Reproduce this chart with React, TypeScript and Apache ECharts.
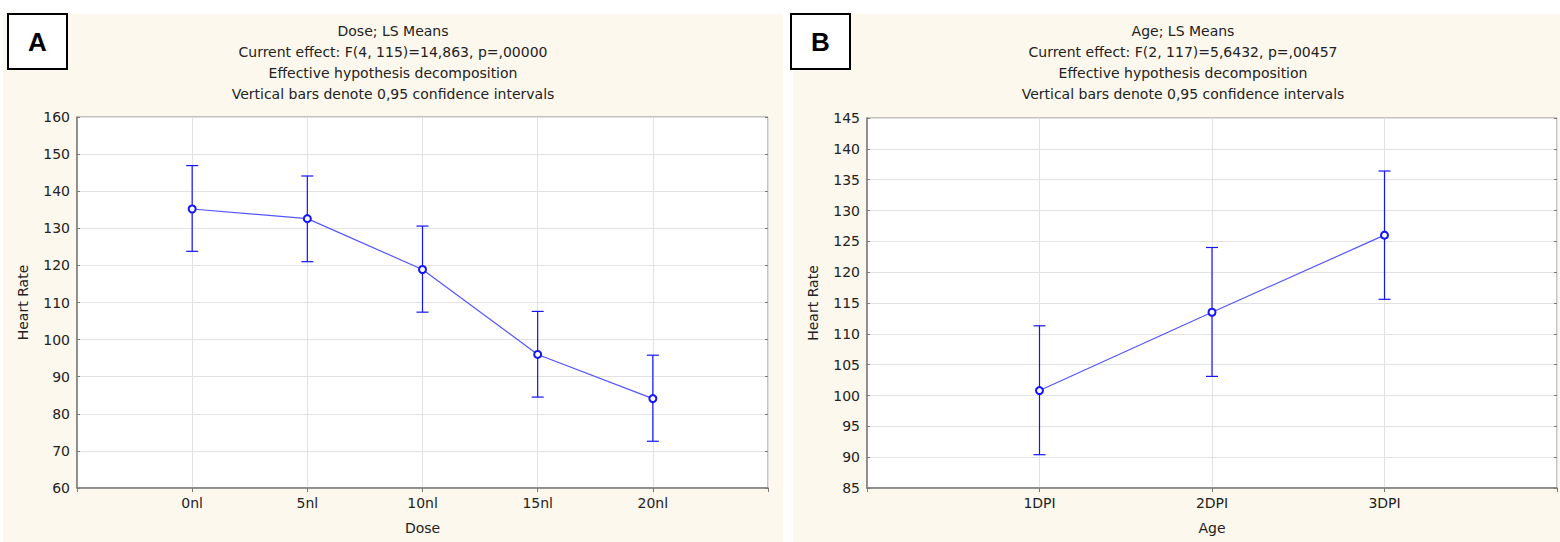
import React, { useEffect, useRef } from "react";
import * as echarts from "echarts";

const doseCats = ["0nl", "5nl", "10nl", "15nl", "20nl"];
const doseMeans = [135.2, 132.6, 118.9, 96.0, 84.1];
const doseLower = [123.8, 121.0, 107.4, 84.5, 72.6];
const doseUpper = [146.9, 144.1, 130.6, 107.6, 95.8];

const ageCats = ["1DPI", "2DPI", "3DPI"];
const ageMeans = [100.8, 113.5, 126.0];
const ageLower = [90.4, 103.1, 115.6];
const ageUpper = [111.3, 124.0, 136.4];

const titleA = [
  "Dose; LS Means",
  "Current effect: F(4, 115)=14,863, p=,00000",
  "Effective hypothesis decomposition",
  "Vertical bars denote 0,95 confidence intervals",
];
const titleB = [
  "Age; LS Means",
  "Current effect: F(2, 117)=5,6432, p=,00457",
  "Effective hypothesis decomposition",
  "Vertical bars denote 0,95 confidence intervals",
];

const FONT = "DejaVu Sans";
const CREAM = "#fdf8ee";
const BLUE = "#1414ff";
const TXT = "#222222";

function errRender(params: any, api: any) {
  const x = api.value(0);
  const lo = api.coord([x, api.value(1)]);
  const hi = api.coord([x, api.value(2)]);
  const w = 6;
  const style = { stroke: BLUE, lineWidth: 1.2 };
  return {
    type: "group",
    children: [
      { type: "line", shape: { x1: lo[0], y1: lo[1], x2: hi[0], y2: hi[1] }, style },
      { type: "line", shape: { x1: lo[0] - w, y1: lo[1], x2: lo[0] + w, y2: lo[1] }, style },
      { type: "line", shape: { x1: hi[0] - w, y1: hi[1], x2: hi[0] + w, y2: hi[1] }, style },
    ],
  };
}

function titleTexts(lines: string[], cx: number) {
  return lines.map((t, i) => ({
    type: "text",
    x: cx,
    y: 31 + i * 21,
    style: {
      text: t,
      fill: TXT,
      font: `14px "${FONT}"`,
      textAlign: "center",
      textVerticalAlign: "middle",
    },
  }));
}

function xAxisFor(gridIndex: number, cats: string[], name: string) {
  return {
    type: "value",
    gridIndex,
    min: 0,
    max: cats.length + 1,
    interval: 1,
    name,
    nameLocation: "middle",
    nameGap: 33,
    nameTextStyle: { color: TXT, fontFamily: FONT, fontSize: 14 },
    axisLine: { show: true, lineStyle: { color: "#7a7a7a", width: 1.5 } },
    axisTick: { show: true, inside: false, length: 4, lineStyle: { color: "#7a7a7a" } },
    axisLabel: {
      color: TXT,
      fontFamily: FONT,
      fontSize: 14,
      margin: 8,
      formatter: (v: number) => cats[v - 1] ?? "",
    },
    splitLine: { show: true, lineStyle: { color: "#e2e2e2", width: 1 } },
  };
}

function yAxisFor(gridIndex: number, min: number, max: number, interval: number, withName: boolean) {
  return {
    type: "value",
    gridIndex,
    min,
    max,
    interval,
    position: withName ? "left" : "right",
    name: withName ? "Heart Rate" : "",
    nameLocation: "middle",
    nameRotate: 90,
    nameGap: 47,
    nameTextStyle: { color: TXT, fontFamily: FONT, fontSize: 14 },
    axisLine: { show: withName, lineStyle: { color: "#7a7a7a", width: 1.5 } },
    axisTick: { show: true, inside: true, length: 3, lineStyle: { color: "#7a7a7a" } },
    axisLabel: {
      show: withName,
      color: TXT,
      fontFamily: FONT,
      fontSize: 14,
      margin: 7,
    },
    splitLine: { show: withName, lineStyle: { color: "#e2e2e2", width: 1 } },
  };
}

export default function App() {
  const ref = useRef<HTMLDivElement>(null);
  useEffect(() => {
    if (!ref.current) return;
    const chart = echarts.init(ref.current, undefined, { renderer: "svg" });
    const lineSeries = (xi: number, means: number[]) => ({
      type: "line",
      xAxisIndex: xi,
      yAxisIndex: xi * 2,
      data: means.map((v, i) => [i + 1, v]),
      symbol: "emptyCircle",
      symbolSize: 7,
      lineStyle: { color: "#5555ff", width: 1.2 },
      itemStyle: { color: BLUE, borderColor: BLUE, borderWidth: 2 },
      z: 5,
    });
    const errSeries = (xi: number, lo: number[], hi: number[]) => ({
      type: "custom",
      xAxisIndex: xi,
      yAxisIndex: xi * 2,
      data: lo.map((v, i) => [i + 1, v, hi[i]]),
      renderItem: errRender,
      z: 3,
    });
    chart.setOption({
      animation: false,
      backgroundColor: "#ffffff",
      grid: [
        { left: 77, top: 117, width: 691, height: 371, show: true, backgroundColor: "#ffffff", borderColor: "#8a8a8a", borderWidth: 1 },
        { left: 867, top: 118, width: 690, height: 370, show: true, backgroundColor: "#ffffff", borderColor: "#8a8a8a", borderWidth: 1 },
      ],
      xAxis: [xAxisFor(0, doseCats, "Dose"), xAxisFor(1, ageCats, "Age")],
      yAxis: [
        yAxisFor(0, 60, 160, 10, true),
        yAxisFor(0, 60, 160, 10, false),
        yAxisFor(1, 85, 145, 5, true),
        yAxisFor(1, 85, 145, 5, false),
      ],
      graphic: [
        { type: "rect", z: -10, silent: true, shape: { x: 3, y: 14, width: 780, height: 528 }, style: { fill: CREAM } },
        { type: "rect", z: -10, silent: true, shape: { x: 793, y: 14, width: 767, height: 528 }, style: { fill: CREAM } },
        { type: "rect", z: 10, shape: { x: 8, y: 14, width: 59, height: 55 }, style: { fill: "#ffffff", stroke: "#000000", lineWidth: 2 } },
        { type: "text", z: 11, x: 37.5, y: 42, style: { text: "A", fill: "#000", font: 'bold 26px "Liberation Sans Narrow", "Liberation Sans", sans-serif', textAlign: "center", textVerticalAlign: "middle" } },
        { type: "rect", z: 10, shape: { x: 791, y: 14, width: 59, height: 55 }, style: { fill: "#ffffff", stroke: "#000000", lineWidth: 2 } },
        { type: "text", z: 11, x: 820.5, y: 42, style: { text: "B", fill: "#000", font: 'bold 26px "Liberation Sans Narrow", "Liberation Sans", sans-serif', textAlign: "center", textVerticalAlign: "middle" } },
        ...titleTexts(titleA, 393),
        ...titleTexts(titleB, 1183),
      ],
      series: [
        errSeries(0, doseLower, doseUpper),
        lineSeries(0, doseMeans),
        errSeries(1, ageLower, ageUpper),
        lineSeries(1, ageMeans),
      ],
    });
    return () => chart.dispose();
  }, []);
  return (
    <div
      ref={ref}
      style={{ position: "absolute", left: 0, top: 0, width: 1560, height: 542 }}
    />
  );
}
